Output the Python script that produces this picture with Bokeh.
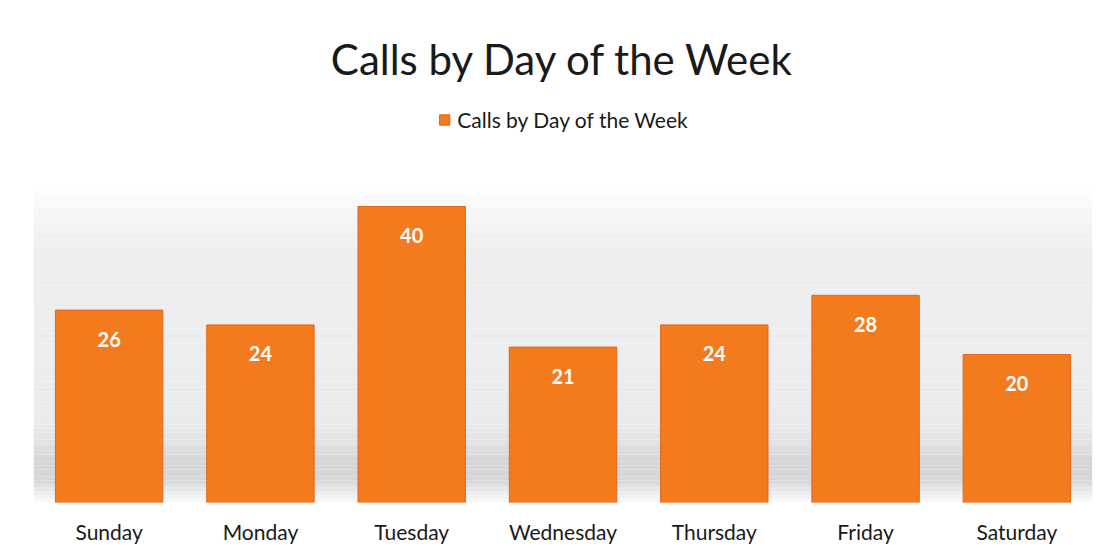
from bokeh.plotting import figure
from bokeh.models import ColumnDataSource, LabelSet, BoxAnnotation, Legend, LegendItem, Label
from bokeh.core.properties import value
from bokeh.embed import file_html
from bokeh.resources import INLINE

days = ["Sunday", "Monday", "Tuesday", "Wednesday", "Thursday", "Friday", "Saturday"]
calls = [26, 24, 40, 21, 24, 28, 20]
series_name = "Calls by Day of the Week"
title_text = "Calls by Day of the Week"

FONT = "Lato"
ORANGE = "#F37B1E"
PX_PER_UNIT = 7.4
FRAME_H = 502

src = ColumnDataSource(dict(day=days, calls=calls, label=[str(v) for v in calls]))

y_end = FRAME_H / PX_PER_UNIT
p = figure(x_range=days, y_range=(0, y_end), width=1119, height=560, title=None,
           output_backend="svg", toolbar_location=None,
           min_border_left=33, min_border_right=27, min_border_bottom=58, min_border_top=0)

# decorative background gradient: (height in data units, grey level) stops
stops = [(0.0, 250), (1.3, 236), (3.0, 214), (5.5, 212), (8.0, 224), (10.5, 233),
         (20.0, 236), (34.0, 237), (38.0, 243), (41.0, 249), (43.5, 255)]
step = 0.5
yb = 0.0
while yb < stops[-1][0]:
    ym = yb + step / 2
    for (y0, g0), (y1, g1) in zip(stops[:-1], stops[1:]):
        if y0 <= ym <= y1:
            g = g0 + (g1 - g0) * (ym - y0) / (y1 - y0)
            break
    gi = int(round(g))
    col = "#%02x%02x%02x" % (gi, min(255, gi + 1), min(255, gi + 3))
    p.add_layout(BoxAnnotation(bottom=yb, top=yb + step, fill_color=col, fill_alpha=1.0,
                               line_alpha=0, level="underlay"))
    yb += step

r = p.vbar(x="day", top="calls", width=0.71, source=src, fill_color=ORANGE,
           line_color="#E4661A", line_width=1)

labels = LabelSet(x="day", y="calls", text="label", source=src, y_offset=-29,
                  text_align="center", text_baseline="middle", text_color="white",
                  text_font=value(FONT), text_font_size="20px", text_font_style="bold")
p.add_layout(labels)

title = Label(x=len(days) / 2, y=y_end - 58 / PX_PER_UNIT, text=title_text,
              text_align="center", text_baseline="middle", text_font_size="42px",
              text_color="#1a1a1a", text_font=FONT)
p.add_layout(title)

legend = Legend(items=[LegendItem(label=series_name, renderers=[r])],
                orientation="horizontal", location="top_center",
                glyph_width=13, glyph_height=13, label_standoff=7,
                label_text_font=FONT, label_text_font_size="21px",
                label_text_color="#1a1a1a", border_line_alpha=0,
                background_fill_alpha=0, padding=5, margin=102)
p.add_layout(legend)

p.xaxis.axis_line_color = None
p.xaxis.major_tick_line_color = None
p.xaxis.minor_tick_line_color = None
p.xaxis.major_label_text_font = FONT
p.xaxis.major_label_text_font_size = "21px"
p.xaxis.major_label_text_color = "#1a1a1a"
p.xaxis.major_label_standoff = 10
p.yaxis.visible = False
p.xgrid.grid_line_color = None
p.ygrid.grid_line_color = None
p.outline_line_color = None
p.background_fill_color = "white"
p.border_fill_color = "white"
p.x_range.range_padding = 0

open("out.html", "w").write(file_html(p, INLINE))
